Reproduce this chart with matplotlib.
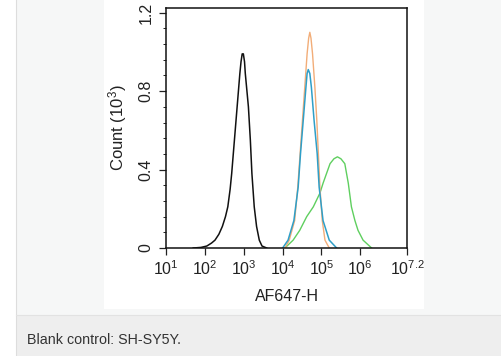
import numpy as np
import matplotlib
matplotlib.use("Agg")
import matplotlib.pyplot as plt
from matplotlib.patches import Rectangle
from matplotlib.lines import Line2D
from matplotlib.ticker import FixedLocator, LogLocator, MultipleLocator, NullFormatter

plt.rcParams['font.family'] = ['Liberation Sans', 'DejaVu Sans']
plt.rcParams['mathtext.default'] = 'regular'

# histogram outlines, x in log10(AF647-H), y in counts (10^3)
black_x = [1.70, 1.90, 2.05, 2.17, 2.26, 2.36, 2.45, 2.53, 2.59, 2.65, 2.69, 2.76, 2.83, 2.90, 2.93,
           2.96, 2.99, 3.02, 3.04, 3.12, 3.17, 3.21, 3.27, 3.33, 3.37, 3.40, 3.47, 3.59]
black_y = [0, 0.003, 0.01, 0.025, 0.04, 0.07, 0.11, 0.16, 0.21, 0.30, 0.38, 0.55, 0.72, 0.89, 0.95,
           0.99, 0.99, 0.95, 0.89, 0.72, 0.55, 0.38, 0.21, 0.11, 0.07, 0.04, 0.01, 0]

orange_x = [4.06, 4.17, 4.31, 4.39, 4.45, 4.51, 4.57, 4.63, 4.67, 4.70, 4.73, 4.77, 4.83, 4.88, 4.92, 4.96, 5.02, 5.09, 5.20]
orange_y = [0, 0.04, 0.14, 0.31, 0.48, 0.65, 0.82, 0.99, 1.07, 1.10, 1.07, 0.99, 0.82, 0.65, 0.48, 0.31, 0.14, 0.04, 0]

blue_x = [4.00, 4.14, 4.29, 4.40, 4.46, 4.53, 4.60, 4.63, 4.66, 4.70, 4.74, 4.81, 4.89, 4.94, 5.04, 5.20, 5.39]
blue_y = [0, 0.04, 0.14, 0.31, 0.48, 0.65, 0.82, 0.89, 0.91, 0.89, 0.82, 0.65, 0.48, 0.31, 0.14, 0.04, 0]

green_x = [4.06, 4.27, 4.44, 4.62, 4.79, 4.96, 5.04, 5.13, 5.22, 5.32, 5.41, 5.50, 5.60, 5.69, 5.77, 5.86, 5.94, 6.07, 6.29]
green_y = [0, 0.04, 0.09, 0.16, 0.21, 0.28, 0.33, 0.38, 0.43, 0.455, 0.465, 0.455, 0.43, 0.33, 0.21, 0.14, 0.09, 0.04, 0]

xtick_exp = [1, 2, 3, 4, 5, 6, 7.2]
xtick_labels = [r'$10^{1}$', r'$10^{2}$', r'$10^{3}$', r'$10^{4}$', r'$10^{5}$', r'$10^{6}$', r'$10^{7.2}$']
ytick_vals = [0, 0.4, 0.8, 1.2]
ytick_labels = ['0', '0.4', '0.8', '1.2']
caption = "Blank control: SH-SY5Y."

W, H = 502, 356
fig = plt.figure(figsize=(W / 100, H / 100), dpi=100)
fig.patch.set_facecolor('white')

def px_rect(x0, y0, x1, y1, color, z=0):
    # rectangle in page pixels (top-left origin)
    r = Rectangle((x0 / W, 1 - y1 / H), (x1 - x0) / W, (y1 - y0) / H,
                  transform=fig.transFigure, facecolor=color, edgecolor='none', zorder=z)
    fig.add_artist(r)

px_rect(16, 0, W, 315, '#f6f7f7')
px_rect(16, 315, W, H, '#eeeeee')
px_rect(104, 0, 424, 309, 'white')
fig.add_artist(Line2D([16.5 / W, 16.5 / W], [0, 1], transform=fig.transFigure, color='#dddddd', lw=0.8))
fig.add_artist(Line2D([16 / W, 1], [1 - 315 / H, 1 - 315 / H], transform=fig.transFigure, color='#e2e2e2', lw=0.8))

ax = fig.add_axes([166 / W, 1 - 248 / H, 241 / W, 240 / H])
ax.set_facecolor('none')

ax.plot(10 ** np.array(green_x), green_y, color='#5fcf5f', lw=1.0)
ax.plot(10 ** np.array(orange_x), orange_y, color='#f2ad78', lw=1.0)
ax.plot(10 ** np.array(blue_x), blue_y, color='#2f9fc8', lw=1.1)
ax.plot(10 ** np.array(black_x), black_y, color='#111111', lw=1.1)

ax.set_xscale('log')
ax.set_xlim(10 ** 1, 10 ** 7.2)
ax.set_ylim(0, 1.224)

ax.xaxis.set_major_locator(FixedLocator([10 ** e for e in xtick_exp]))
ax.set_xticklabels(xtick_labels)
ax.xaxis.set_minor_locator(LogLocator(base=10, subs=np.arange(2, 10)))
ax.xaxis.set_minor_formatter(NullFormatter())
ax.set_yticks(ytick_vals)
ax.set_yticklabels(ytick_labels, rotation=90, va='center')
ax.yaxis.set_minor_locator(MultipleLocator(0.08))

ax.tick_params(axis='both', which='major', length=5, width=0.9, color='#222222',
               labelsize=11.5, labelcolor='#222222')
ax.tick_params(axis='both', which='minor', length=2.5, width=0.7, color='#222222')
ax.tick_params(axis='x', pad=3)
ax.tick_params(axis='y', pad=4)

for s in ax.spines.values():
    s.set_linewidth(1.1)
    s.set_color('#111111')

ax.set_xlabel('AF647-H', fontsize=11.5, color='#222222', labelpad=8)
ax.set_ylabel(r'Count ($10^{3}$)', fontsize=12, color='#222222', labelpad=7)

fig.text(27 / W, 1 - 340 / H, caption, fontsize=10.3, color='#333333', va='center', ha='left')

fig.savefig('out.png', dpi=100)
